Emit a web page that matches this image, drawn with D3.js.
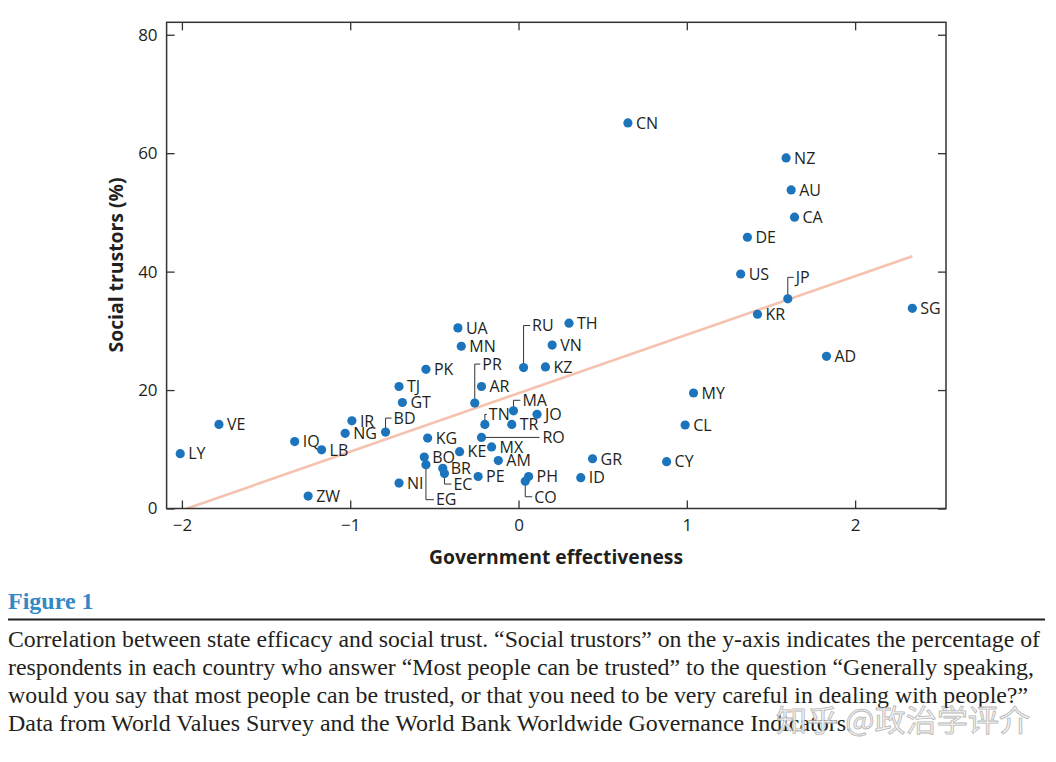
<!DOCTYPE html>
<html>
<head>
<meta charset="utf-8">
<script src="https://cdn.jsdelivr.net/npm/d3@7"></script>
<style>
  html, body { margin: 0; padding: 0; background: #fff; }
  svg { display: block; }
</style>
</head>
<body>
<svg id="chart" width="1056" height="762"></svg>
<script>
// country codes, WGI government effectiveness, % social trustors
const codes = ["LY","VE","IQ","LB","ZW","IR","NG","BD","TJ","GT","PK","KG","BO","EG","NI","BR","EC",
  "UA","MN","PR","AR","RU","TH","VN","KZ","MA","JO","TN","TR","RO","KE","MX","AM","GR","CY","CL",
  "PE","PH","CO","ID","MY","CN","NZ","AU","CA","DE","US","JP","KR","SG","AD"];
const effectiveness = [-2.01,-1.78,-1.33,-1.17,-1.25,-0.99,-1.03,-0.79,-0.71,-0.69,-0.55,-0.54,-0.56,-0.55,-0.71,-0.45,-0.44,
  -0.36,-0.34,-0.26,-0.22,0.03,0.30,0.20,0.16,-0.03,0.11,-0.20,-0.04,-0.22,-0.35,-0.16,-0.12,0.44,0.88,0.99,
  -0.24,0.06,0.04,0.37,1.04,0.65,1.59,1.62,1.64,1.36,1.32,1.60,1.42,2.34,1.83];
const trustors = [9.25,14.2,11.3,9.9,2.1,14.8,12.7,12.9,20.6,17.9,23.5,11.9,8.7,7.4,4.3,6.8,5.9,
  30.5,27.4,17.8,20.6,23.8,31.3,27.6,23.9,16.5,15.9,14.2,14.2,12.0,9.6,10.4,8.1,8.4,7.9,14.1,
  5.4,5.4,4.6,5.2,19.5,65.1,59.2,53.8,49.2,45.8,39.6,35.4,32.8,33.8,25.7];

// fitted trend line, end points
const trendX = [-2.01, 2.34];
const trendY = [-0.4, 42.6];

const xTicks = [-2, -1, 0, 1, 2];
const yTicks = [0, 20, 40, 60, 80];

const captionLines = [
  "Correlation between state efficacy and social trust. \u201cSocial trustors\u201d on the y-axis indicates the percentage of",
  "respondents in each country who answer \u201cMost people can be trusted\u201d to the question \u201cGenerally speaking,",
  "would you say that most people can be trusted, or that you need to be very careful in dealing with people?\u201d",
  "Data from World Values Survey and the World Bank Worldwide Governance Indicators."
];

// labels that sit away from their dot, with a leader line
const labelLayout = {
  BD: { dx: 8, dy: -14 },
  EG: { dx: 10, dy: 35 },
  EC: { dx: 9, dy: 10.5 },
  PR: { dx: 7.5, dy: -39 },
  RU: { dx: 8.5, dy: -42 },
  MA: { dx: 9, dy: -10.5 },
  TN: { dx: 4, dy: -10 },
  RO: { dx: 61, dy: 0 },
  CO: { dx: 9, dy: 15.5 },
  JP: { dx: 8, dy: -21.5 }
};

const svg = d3.select("#chart");
const frame = { left: 166.6, right: 946, top: 22.3, bottom: 508.5 };
const sansFont = "'Open Sans', 'Noto Sans', sans-serif";
const ink = "#231f20";

const x = d3.scaleLinear().domain([-2.091, 2.54]).range([frame.left, frame.right]);
const y = d3.scaleLinear().domain([0, 82.1]).range([frame.bottom, frame.top]);

const points = codes.map((c, i) => ({ code: c, gx: effectiveness[i], st: trustors[i] }));

svg.append("defs").append("clipPath").attr("id", "plotClip")
  .append("rect")
  .attr("x", frame.left).attr("y", frame.top)
  .attr("width", frame.right - frame.left).attr("height", frame.bottom - frame.top);

// trend line
svg.append("path")
  .datum(trendX.map((v, i) => [v, trendY[i]]))
  .attr("clip-path", "url(#plotClip)")
  .attr("d", d3.line().x(d => x(d[0])).y(d => y(d[1])))
  .attr("fill", "none")
  .attr("stroke", "#f4c2ae")
  .attr("stroke-width", 2.6);

// axes, ticks pointing inward
const styleAxis = (g, showText) => {
  g.select(".domain").remove();
  g.selectAll(".tick line").attr("stroke", "#333").attr("stroke-width", 1.3);
  g.selectAll(".tick text")
    .attr("fill", ink)
    .style("font-family", sansFont)
    .style("font-size", "17px")
    .style("display", showText ? null : "none");
};
const fmt = d => d < 0 ? "\u2212" + Math.abs(d) : String(d);

svg.append("g").attr("transform", `translate(0,${frame.bottom})`)
  .call(d3.axisBottom(x).tickValues(xTicks).tickSize(-8).tickPadding(10).tickFormat(fmt))
  .call(g => styleAxis(g, true));
svg.append("g").attr("transform", `translate(0,${frame.top})`)
  .call(d3.axisTop(x).tickValues(xTicks).tickSize(-8).tickFormat(""))
  .call(g => styleAxis(g, false));
svg.append("g").attr("transform", `translate(${frame.left},0)`)
  .call(d3.axisLeft(y).tickValues(yTicks).tickSize(-8).tickPadding(9).tickFormat(fmt))
  .call(g => styleAxis(g, true));
svg.append("g").attr("transform", `translate(${frame.right},0)`)
  .call(d3.axisRight(y).tickValues(yTicks).tickSize(-8).tickFormat(""))
  .call(g => styleAxis(g, false));

svg.append("rect")
  .attr("x", frame.left).attr("y", frame.top)
  .attr("width", frame.right - frame.left).attr("height", frame.bottom - frame.top)
  .attr("fill", "none").attr("stroke", "#333").attr("stroke-width", 1.5);

// axis titles
svg.append("text")
  .attr("x", 556).attr("y", 564)
  .attr("text-anchor", "middle")
  .attr("textLength", 254).attr("lengthAdjust", "spacingAndGlyphs")
  .attr("fill", ink)
  .style("font-family", sansFont).style("font-weight", 700).style("font-size", "20px")
  .text("Government effectiveness");

svg.append("text")
  .attr("transform", "translate(123,265) rotate(-90)")
  .attr("text-anchor", "middle")
  .attr("textLength", 175).attr("lengthAdjust", "spacingAndGlyphs")
  .attr("fill", ink)
  .style("font-family", sansFont).style("font-weight", 700).style("font-size", "20px")
  .text("Social trustors (%)");

// leader lines
svg.append("g").selectAll("path")
  .data(points.filter(d => labelLayout[d.code]))
  .join("path")
  .attr("d", d => {
    const cx = x(d.gx), cy = y(d.st), L = labelLayout[d.code];
    if (L.dy === 0) return `M${cx},${cy}H${cx + L.dx - 3}`;
    return `M${cx},${cy}V${cy + L.dy}H${cx + L.dx - 2}`;
  })
  .attr("fill", "none")
  .attr("stroke", "#333")
  .attr("stroke-width", 1);

// dots
svg.append("g").selectAll("circle")
  .data(points)
  .join("circle")
  .attr("cx", d => x(d.gx))
  .attr("cy", d => y(d.st))
  .attr("r", 4.6)
  .attr("fill", "#1c75bc");

// country labels
svg.append("g").selectAll("text")
  .data(points)
  .join("text")
  .attr("x", d => x(d.gx) + (labelLayout[d.code] ? labelLayout[d.code].dx : 8))
  .attr("y", d => y(d.st) + (labelLayout[d.code] ? labelLayout[d.code].dy : 0))
  .attr("dy", "0.36em")
  .attr("fill", ink)
  .style("font-family", sansFont)
  .style("font-size", "16px")
  .text(d => d.code);

// figure caption
svg.append("text")
  .attr("x", 8).attr("y", 609)
  .attr("fill", "#3388c5")
  .style("font-family", "'Liberation Serif', serif")
  .style("font-weight", 700).style("font-size", "24px")
  .text("Figure 1");

svg.append("line")
  .attr("x1", 8).attr("x2", 1045).attr("y1", 619.5).attr("y2", 619.5)
  .attr("stroke", "#231f20").attr("stroke-width", 1.8);

const lineWidths = [1032, 1026, 1020, 844];
svg.append("g").selectAll("text")
  .data(captionLines)
  .join("text")
  .attr("x", 8)
  .attr("y", (d, i) => 647 + i * 28)
  .attr("textLength", (d, i) => lineWidths[i])
  .attr("lengthAdjust", "spacingAndGlyphs")
  .attr("fill", ink)
  .style("font-family", "'Liberation Serif', serif")
  .style("font-size", "24px")
  .text(d => d);

// watermark
svg.append("text")
  .attr("x", 776).attr("y", 731)
  .attr("textLength", 254).attr("lengthAdjust", "spacingAndGlyphs")
  .attr("fill", "#f4f4f4")
  .attr("stroke", "#b0b0b0")
  .attr("stroke-width", 0.8)
  .attr("opacity", 0.9)
  .style("font-family", "'Noto Sans CJK SC', sans-serif")
  .style("font-size", "30px")
  .text("知乎 @政治学评介");
</script>
</body>
</html>
